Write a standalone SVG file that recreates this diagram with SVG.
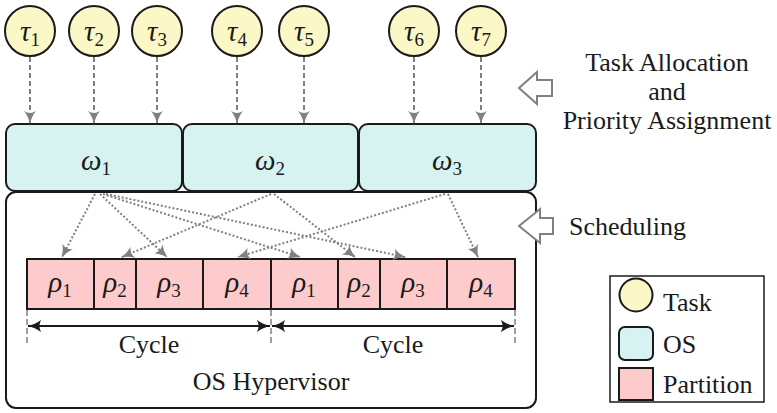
<svg xmlns="http://www.w3.org/2000/svg" width="777" height="413" viewBox="0 0 777 413" font-family="'Liberation Serif', 'DejaVu Serif', 'Times New Roman', serif">
<style>
  text { font-family: "Liberation Serif", "DejaVu Serif", "Times New Roman", serif; font-size: 26px; fill: #1a1a1a; }
  .g { font-style: italic; font-size: 29px; }
  .sub { font-size: 19px; font-style: normal; }
  .task { fill: #fbf7c6; stroke: #1a1a1a; stroke-width: 2; }
  .os { fill: #d6f3f2; stroke: #1a1a1a; stroke-width: 2; }
  .part { fill: #fdcbcc; stroke: #1a1a1a; stroke-width: 2; }
  .dash { stroke: #808080; stroke-width: 2; stroke-dasharray: 5 3; fill: none; }
  .dot { stroke: #808080; stroke-width: 2; stroke-dasharray: 2 2; fill: none; }
  .tick { stroke: #808080; stroke-width: 1.5; stroke-dasharray: 6 3; fill: none; }
  .cyc { stroke: #1a1a1a; stroke-width: 2; fill: none; }
  .blk { fill: #ffffff; stroke: #808080; stroke-width: 2; }
</style>
<defs>
  <marker id="ag" viewBox="0 0 12 12" refX="11" refY="6" markerWidth="13" markerHeight="13" markerUnits="userSpaceOnUse" orient="auto">
    <path d="M0,0.5 Q5,4.5 12,6 Q5,7.5 0,11.5 Q3.5,6 0,0.5 z" fill="#808080"/>
  </marker>
  <marker id="ak" viewBox="0 0 12 12" refX="11.5" refY="6" markerWidth="14" markerHeight="14" markerUnits="userSpaceOnUse" orient="auto-start-reverse">
    <path d="M0,0.5 Q5,4.5 12,6 Q5,7.5 0,11.5 Q3.5,6 0,0.5 z" fill="#1a1a1a"/>
  </marker>
</defs>

<!-- Hypervisor -->
<g id="hypervisor">
  <rect x="6" y="192" width="530" height="216" rx="10" fill="#ffffff" stroke="#1a1a1a" stroke-width="2"/>
  <text x="271" y="390" text-anchor="middle">OS Hypervisor</text>
</g>

<!-- OS nodes -->
<g id="os1"><rect class="os" x="6" y="124" width="176" height="67" rx="9"/>
  <text x="96" y="170" text-anchor="middle"><tspan class="g">ω</tspan><tspan class="sub" dy="5">1</tspan></text></g>
<g id="os2"><rect class="os" x="183" y="124" width="175" height="67" rx="9"/>
  <text x="270" y="170" text-anchor="middle"><tspan class="g">ω</tspan><tspan class="sub" dy="5">2</tspan></text></g>
<g id="os3"><rect class="os" x="359" y="124" width="177" height="67" rx="9"/>
  <text x="447" y="170" text-anchor="middle"><tspan class="g">ω</tspan><tspan class="sub" dy="5">3</tspan></text></g>

<!-- Tasks -->
<g id="t1"><circle class="task" cx="30" cy="31" r="25"/><text x="30" y="41" text-anchor="middle"><tspan class="g">τ</tspan><tspan class="sub" dy="5">1</tspan></text></g>
<g id="t2"><circle class="task" cx="94" cy="31" r="25"/><text x="94" y="41" text-anchor="middle"><tspan class="g">τ</tspan><tspan class="sub" dy="5">2</tspan></text></g>
<g id="t3"><circle class="task" cx="157" cy="31" r="25"/><text x="157" y="41" text-anchor="middle"><tspan class="g">τ</tspan><tspan class="sub" dy="5">3</tspan></text></g>
<g id="t4"><circle class="task" cx="237" cy="31" r="25"/><text x="237" y="41" text-anchor="middle"><tspan class="g">τ</tspan><tspan class="sub" dy="5">4</tspan></text></g>
<g id="t5"><circle class="task" cx="304" cy="31" r="25"/><text x="304" y="41" text-anchor="middle"><tspan class="g">τ</tspan><tspan class="sub" dy="5">5</tspan></text></g>
<g id="t6"><circle class="task" cx="414" cy="31" r="25"/><text x="414" y="41" text-anchor="middle"><tspan class="g">τ</tspan><tspan class="sub" dy="5">6</tspan></text></g>
<g id="t7"><circle class="task" cx="481" cy="31" r="25"/><text x="481" y="41" text-anchor="middle"><tspan class="g">τ</tspan><tspan class="sub" dy="5">7</tspan></text></g>

<!-- Partitions -->
<g id="p1a"><rect class="part" x="27" y="259" width="67" height="50"/><text x="60" y="292" text-anchor="middle"><tspan class="g">ρ</tspan><tspan class="sub" dy="5">1</tspan></text></g>
<g id="p2a"><rect class="part" x="94" y="259" width="42" height="50"/><text x="115" y="292" text-anchor="middle"><tspan class="g">ρ</tspan><tspan class="sub" dy="5">2</tspan></text></g>
<g id="p3a"><rect class="part" x="136" y="259" width="67" height="50"/><text x="169" y="292" text-anchor="middle"><tspan class="g">ρ</tspan><tspan class="sub" dy="5">3</tspan></text></g>
<g id="p4a"><rect class="part" x="203" y="259" width="68" height="50"/><text x="237" y="292" text-anchor="middle"><tspan class="g">ρ</tspan><tspan class="sub" dy="5">4</tspan></text></g>
<g id="p1b"><rect class="part" x="271" y="259" width="67" height="50"/><text x="304" y="292" text-anchor="middle"><tspan class="g">ρ</tspan><tspan class="sub" dy="5">1</tspan></text></g>
<g id="p2b"><rect class="part" x="338" y="259" width="42" height="50"/><text x="359" y="292" text-anchor="middle"><tspan class="g">ρ</tspan><tspan class="sub" dy="5">2</tspan></text></g>
<g id="p3b"><rect class="part" x="380" y="259" width="67" height="50"/><text x="413" y="292" text-anchor="middle"><tspan class="g">ρ</tspan><tspan class="sub" dy="5">3</tspan></text></g>
<g id="p4b"><rect class="part" x="447" y="259" width="68" height="50"/><text x="481" y="292" text-anchor="middle"><tspan class="g">ρ</tspan><tspan class="sub" dy="5">4</tspan></text></g>

<!-- Connectors -->
<g id="connectors">
  <line class="dash" x1="30" y1="57" x2="30" y2="123" marker-end="url(#ag)"/>
  <line class="dash" x1="94" y1="57" x2="94" y2="123" marker-end="url(#ag)"/>
  <line class="dash" x1="157" y1="57" x2="157" y2="123" marker-end="url(#ag)"/>
  <line class="dash" x1="237" y1="57" x2="237" y2="123" marker-end="url(#ag)"/>
  <line class="dash" x1="304" y1="57" x2="304" y2="123" marker-end="url(#ag)"/>
  <line class="dash" x1="414" y1="57" x2="414" y2="123" marker-end="url(#ag)"/>
  <line class="dash" x1="481" y1="57" x2="481" y2="123" marker-end="url(#ag)"/>

  <line class="dot" x1="95" y1="194" x2="62" y2="257" marker-end="url(#ag)"/>
  <line class="dot" x1="100" y1="194" x2="167" y2="257" marker-end="url(#ag)"/>
  <line class="dot" x1="103" y1="194" x2="300" y2="257" marker-end="url(#ag)"/>
  <line class="dot" x1="106" y1="194" x2="405" y2="257" marker-end="url(#ag)"/>
  <line class="dot" x1="271" y1="194" x2="122" y2="257" marker-end="url(#ag)"/>
  <line class="dot" x1="274" y1="194" x2="355" y2="257" marker-end="url(#ag)"/>
  <line class="dot" x1="445" y1="194" x2="238" y2="257" marker-end="url(#ag)"/>
  <line class="dot" x1="448" y1="194" x2="478" y2="257" marker-end="url(#ag)"/>

  <line class="tick" x1="27" y1="310" x2="27" y2="343"/>
  <line class="tick" x1="271" y1="310" x2="271" y2="343"/>
  <line class="tick" x1="515" y1="310" x2="515" y2="343"/>
  <line class="cyc" x1="28" y1="326" x2="270" y2="326" marker-start="url(#ak)" marker-end="url(#ak)"/>
  <line class="cyc" x1="272" y1="326" x2="514" y2="326" marker-start="url(#ak)" marker-end="url(#ak)"/>
</g>

<g id="cycle-labels">
  <text x="149" y="353" text-anchor="middle">Cycle</text>
  <text x="393" y="353" text-anchor="middle">Cycle</text>
</g>

<!-- Phase annotations -->
<g id="alloc">
  <path class="blk" d="M519,88 L537,72 L537,80 L552,80 L552,96 L537,96 L537,104 Z"/>
  <text x="667" y="71" text-anchor="middle">Task Allocation</text>
  <text x="667" y="100" text-anchor="middle">and</text>
  <text x="667" y="129" text-anchor="middle">Priority Assignment</text>
</g>
<g id="sched">
  <path class="blk" d="M519,226 L540,209 L540,218 L553,218 L553,234 L540,234 L540,243 Z"/>
  <text x="569" y="235">Scheduling</text>
</g>

<!-- Legend -->
<g id="legend">
  <rect x="610" y="276" width="154" height="126" fill="#ffffff" stroke="#1a1a1a" stroke-width="1.5"/>
  <circle class="task" cx="636" cy="295" r="16.5"/>
  <rect class="os" x="619" y="327" width="34" height="33" rx="6"/>
  <rect class="part" x="619" y="368" width="34" height="32"/>
  <text x="663" y="311">Task</text>
  <text x="663" y="353">OS</text>
  <text x="663" y="393">Partition</text>
</g>
</svg>
